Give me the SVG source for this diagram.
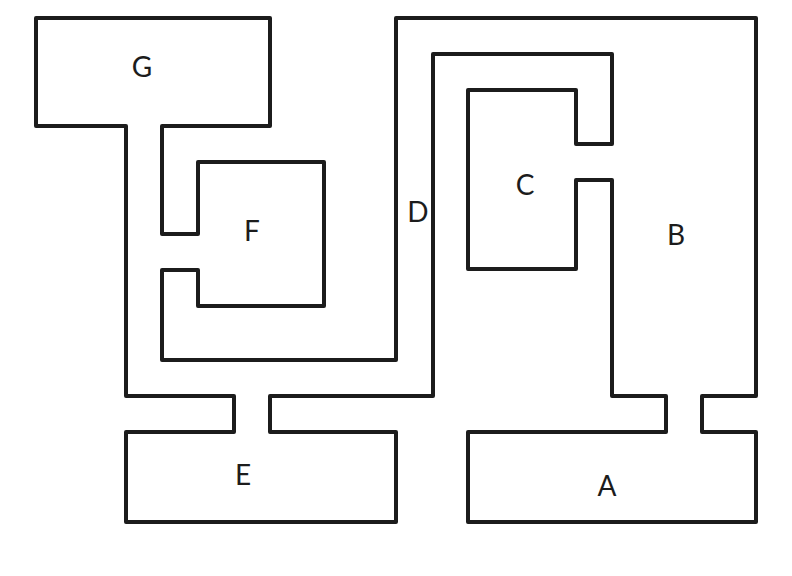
<svg xmlns="http://www.w3.org/2000/svg" width="792" height="576" viewBox="0 0 792 576">
<style>
.wall{fill:none;stroke:#1c1c1c;stroke-width:4;stroke-linejoin:round;stroke-linecap:round}
.lbl{font-family:Lato,"Liberation Sans",sans-serif;font-size:28px;fill:#1c1c1c;text-anchor:middle}
</style>
<rect width="792" height="576" fill="#ffffff"/>
<g id="walls">
<path class="wall" d="M126,396 H234 V432 H126 V522 H396 V432 H270 V396 H433 V54 H612 V144 H576 V90 H468 V269 H576 V180 H612 V396 H666 V432 H468 V522 H756 V432 H702 V396 H756 V18 H396 V360 H162 V270 H198 V306 H324 V162 H198 V234 H162 V126 H270 V18 H36 V126 H126 Z"/>
</g>
<g id="labels">
<text id="label-G" class="lbl" x="142" y="77">G</text>
<text id="label-F" class="lbl" x="252" y="241">F</text>
<text id="label-D" class="lbl" x="418" y="222">D</text>
<text id="label-C" class="lbl" x="525" y="195">C</text>
<text id="label-B" class="lbl" x="676" y="245">B</text>
<text id="label-E" class="lbl" x="243" y="485">E</text>
<text id="label-A" class="lbl" x="607" y="496">A</text>
</g>
</svg>
